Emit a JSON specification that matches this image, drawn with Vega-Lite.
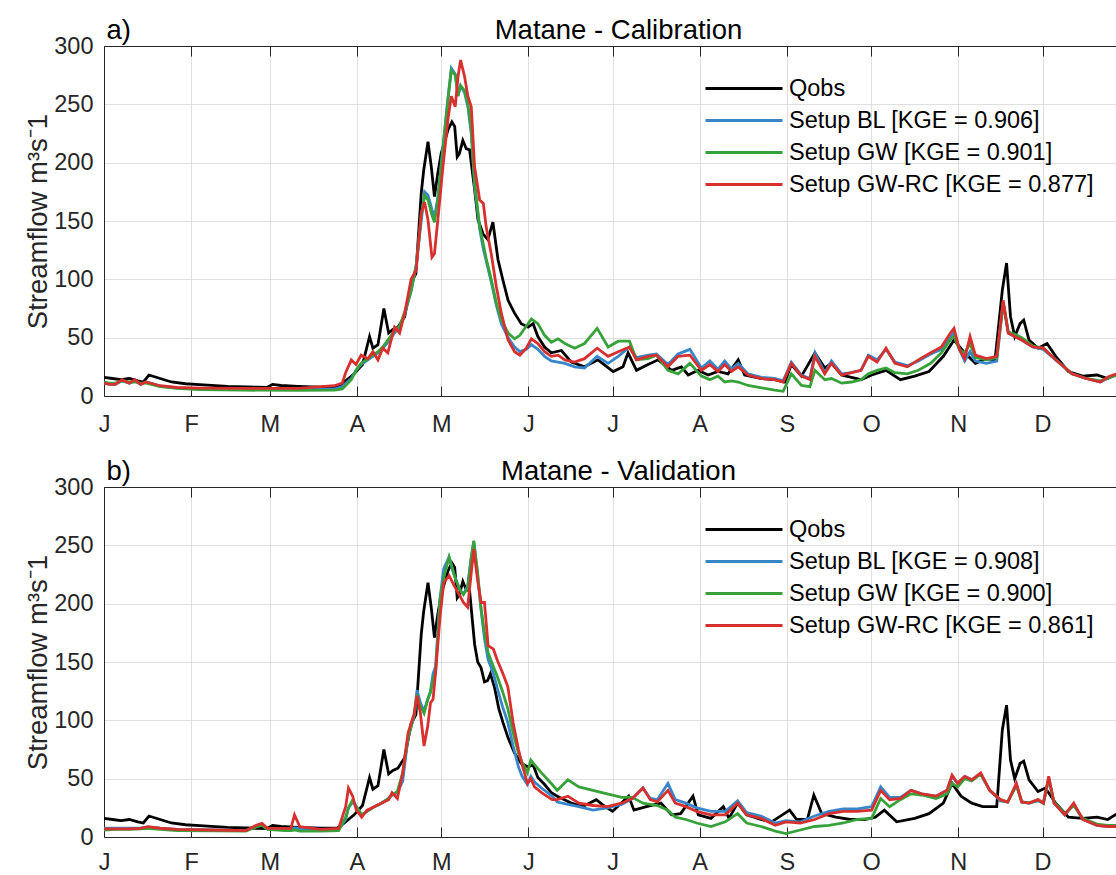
{
  "$schema": "https://vega.github.io/schema/vega-lite/v6.json",
  "padding": {"left": 24, "top": 16, "right": 0, "bottom": 0},
  "config": {
    "font": "Liberation Sans",
    "view": {"stroke": null},
    "axis": {"gridColor": "#dfdfdf", "gridWidth": 1, "domainColor": "#262626", "tickColor": "#262626", "labelColor": "#262626"}
  },
  "datasets": {
    "flows": [
      {"p": "a", "k": "Qobs",
       "d": [1,4,7,10,13,15,17,21,25,30,35,45,55,59,61,64,70,78,84,86,88,90,93,95.5,96.7,98.5,100.6,102.3,103.8,105.6,108,110.3,112,113.9,114.8,116.3,117.5,118.6,119.8,121,123.4,124.8,125.8,126.7,127.5,128.7,129.9,131.1,132.9,134.1,135.9,137.6,139.4,141.2,143,144.8,147.1,149.5,151.9,153.7,155.4,157.8,160.2,163.8,167.3,172,176.8,182.2,185.7,187.5,190.5,194.6,198.2,203,206.5,208.9,212.4,216,219.5,223.1,226.7,229,235,239.7,243.3,245.6,249.2,254,257.5,259.9,263.5,267,270.4,274.2,279.3,284.4,289.5,294.6,299.7,303.5,307.3,311.1,315,318.1,320.7,322.2,323.6,325.1,327,328.3,330.2,333.4,336.6,339.7,344.2,349.3,354.4,358.2,361.5],
       "q": [16,15,14,15,13,12,18,15,12,10.5,9.8,8.3,7.5,7.3,10,9,8.2,7.5,7.5,11,15,19,27,51,41,44,75,54,57,59,68,97,105,174,194,218,196,171,191,208,228,235,231,205,208,219,212,211,177,151,139,134,149,117,99,82,71,62,59,62,51,42,37,39,29,25,31,21,25,37,22,27,31,22,25,18,22,18,21,19,31,18,15,14,12,27,17,37,24,28,18,16,14,18,22,14,17,21,34,48,37,28,32,31,91,114,68,51,62,65,48,41,45,34,21,17,18,15,19]},
      {"p": "a", "k": "Setup BL [KGE = 0.906]",
       "d": [1,3,5,7.5,10,12,14,16,21,27,35,50,70,83,85.8,87,89,90.7,92.5,94.9,96.7,98.5,100.2,102,104.4,106.2,108,110.3,112.1,113.9,115.1,116.3,117.7,118.6,119.8,121.6,123.4,124.6,126,127,127.9,129.3,130.5,131.7,132.9,134.7,136,137,138.8,140.6,142.4,144.8,147.1,149,151.3,153.1,155.4,157.8,160.2,162.6,165,168.5,172,176.5,180.4,184,188,190.5,194.6,197.6,201.7,205.3,209.5,213.6,216.6,219.5,221.9,224.3,226.7,230.2,235,239.7,242.7,245.6,249.2,252.2,254,257.5,259.9,263.5,267,270.4,273,276.1,279.3,282.5,286.9,290.8,295.2,299,302.2,303.5,305.4,307.3,309.2,311.1,315,318.7,321,322.8,325.1,327.6,331.5,335.3,339.7,345.5,350.5,355.6,358.8,361.5],
       "q": [11,10,10,13,11,13,10,12,8.5,7,6,5.5,5.5,6,8,11,15,22,27,31,34,37,41,46,54,59,70,90,112,150,175,172,160,153,170,213,255,281,276,258,266,260,248,225,180,143,126,116,98,78,62,50,42,38,40,44,40,34,30,29,28,25,24,34,28,34,42,33,35,36,27,36,40,24,30,23,30,23,28,19,16,15,13,29,18,15,37,20,30,19,20,22,35,31,40,29,26,30,36,40,50,55,40,30,38,30,28,30,80,54,51,48,42,40,31,19,15,12,16,18]},
      {"p": "a", "k": "Setup GW [KGE = 0.901]",
       "d": [1,3,5,7.5,10,12,14,16,21,27,35,50,70,83,85.8,87,89,90.7,92.5,94.9,96.7,98.5,100.2,102,104.4,106.2,108,110.3,112.1,113.9,115.1,116.3,117.7,118.6,119.8,121.6,123.4,124.6,126,127,127.9,129.3,130.5,131.7,132.9,134.7,136,137,138.8,140.6,142.4,144.8,147.1,149,151.3,153.1,155.4,157.8,160.2,162.6,165,168.5,172,176.5,180.4,184,188,190.5,194.6,197.6,201.7,205.3,209.5,213.6,216.6,219.5,221.9,224.3,226.7,230.2,235,239.7,242.7,245.6,249.2,252.2,254,257.5,259.9,263.5,267,270.4,273,276.1,279.3,282.5,286.9,290.8,295.2,299,302.2,303.5,305.4,307.3,309.2,311.1,315,318.7,321,322.8,325.1,327.6,331.5,335.3,339.7,345.5,350.5,355.6,358.8,361.5],
       "q": [12,11,11,13,12,12,11,11,8,6.5,5.5,5,4.8,5,6,9,14,22,28,32,35,38,42,48,56,60,72,90,112,155,172,168,155,149,168,211,254,279,275,257,266,262,250,228,182,145,130,118,100,80,65,54,49,52,60,66,62,52,46,49,45,41,45,58,42,47,47,31,32,35,22,19,28,17,14,17,12,13,12,9,7,5,4,19,9,8,22,14,15,11,12,14,19,22,24,20,19,22,28,37,48,51,40,37,45,33,31,33,80,55,53,50,43,41,31,19,15,13,16,18]},
      {"p": "a", "k": "Setup GW-RC [KGE = 0.877]",
       "d": [1,3,5,7.5,10,12,14,16,21,27,35,50,70,83,85.8,87,89,90.7,92.5,94.9,96.7,98.5,100.2,102,104.4,106.2,108,110.3,112.1,113.9,115.1,116.3,117.7,118.6,119.8,121.6,123.4,124.6,126,127,127.9,129.3,130.5,131.7,132.9,134.7,136,137,138.8,140.6,142.4,144.8,147.1,149,151.3,153.1,155.4,157.8,160.2,162.6,165,168.5,172,176.5,180.4,184,188,190.5,194.6,197.6,201.7,205.3,209.5,213.6,216.6,219.5,221.9,224.3,226.7,230.2,235,239.7,242.7,245.6,249.2,252.2,254,257.5,259.9,263.5,267,270.4,273,276.1,279.3,282.5,286.9,290.8,295.2,299,302.2,303.5,305.4,307.3,309.2,311.1,315,318.7,321,322.8,325.1,327.6,331.5,335.3,339.7,345.5,350.5,355.6,358.8,361.5],
       "q": [11,10,10,14,11,14,10,12,8.8,7.3,6.8,6.5,6.5,8.8,11,20,31,27,35,32,38,31,41,37,59,54,71,100,108,157,166,151,119,122,151,196,237,257,248,274,288,274,257,248,196,168,165,145,122,94,71,48,38,35,41,49,45,38,34,35,31,29,32,41,34,38,42,31,34,35,25,34,35,22,27,21,27,21,25,18,15,14,12,28,17,14,34,19,28,18,20,22,34,29,41,28,25,31,37,42,54,58,40,32,51,35,32,34,82,54,51,48,42,41,31,19,15,12,17,19]},
      {"p": "b", "k": "Qobs",
       "d": [1,4,7,10,13,15,17,21,25,30,35,45,55,59,61,64,70,78,84,86,88,90,93,95.5,96.7,98.5,100.6,102.3,103.8,105.6,108,110.3,112,113.9,114.8,116.3,117.5,118.6,119.8,121,123.4,124.8,125.8,126.7,127.5,128.7,129.9,131.1,132.9,134,135.2,136.4,137.5,138.5,140,141.5,143,144.8,147.1,149.5,151.9,153.7,155.4,157.8,160.2,162.3,167.4,171.2,176.2,178.8,182,187.7,189.6,194,199.2,203,206.2,210.6,212.5,217,221.4,223.4,226.5,229.7,234.8,238.6,245,247.5,251.3,253.6,256.4,261.5,266.6,271.7,275.5,278.7,283.1,289.5,294.6,299.7,302.8,306,309.8,313.7,318.7,320.7,322.2,323.6,325.1,327,328.3,330.2,333.4,336,339.7,344.2,349.3,354.4,358.2,361.5],
       "q": [16,15,14,15,13,12,18,15,12,10.5,9.8,8.3,7.5,7.3,10,9,8.2,7.5,7.5,11,15,19,27,51,41,44,75,54,57,59,68,97,105,174,194,218,196,171,191,208,228,235,231,205,208,219,212,211,165,150,145,133,134,140,128,110,98,85,72,63,60,62,51,45,38,35,29,26,32,27,22,35,23,26,29,19,20,35,19,16,26,16,29,19,15,13,23,15,15,36,20,17,15,15,17,23,13,16,20,29,46,35,29,26,26,92,113,66,50,63,65,49,39,42,29,17,16,17,15,20]},
      {"p": "b", "k": "Setup BL [KGE = 0.908]",
       "d": [1,5,10,14,16.6,21,27,40,51.5,55.4,57.2,59.2,65.5,67.5,68.8,70.7,78,84.5,87,88,89.5,90.8,92.7,94.6,97.2,99.7,102.3,103.5,105.4,107.3,109.2,111.4,112.4,113.6,114.9,116.2,117.2,118.1,119,120.6,121.9,123.8,125.7,127.6,128.9,130.4,131.6,132.6,133.9,135.2,136.4,137.7,139.6,140.9,142.8,144.7,146.6,148.5,149.8,151.7,152.9,154.2,156.7,160.5,162.3,166.1,170,175,180.1,185.2,189,192.8,195.4,197.9,201.7,204.3,208.1,211.9,217,222.1,226.5,229.7,234.8,239.9,243.7,248.8,253.9,259,264.1,269.1,274.2,277.4,280.6,284.4,288.2,292,297.1,301,302.8,304.8,307.3,309.8,313,316.2,320,322.6,325.7,327.6,330.2,333.4,335.3,337.2,339.1,342.9,346.1,349.3,354.4,358.2,361.5],
       "q": [7.5,7.5,7.5,7.5,8.5,7.5,6.5,6,5.5,9.5,11,7,6.5,6.5,8,7,6,6.5,15,25,30,26,19,22,26,29,33,36,38,48,85,104,126,115,108,118,125,140,146,205,230,240,224,212,208,215,238,253,225,195,170,152,140,128,112,98,78,60,52,45,52,47,42,35,30,28,26,23,25,28,33,42,33,32,46,32,29,25,22,22,31,21,18,12,14,13,18,22,24,24,26,43,34,34,40,37,35,40,52,46,52,49,54,40,31,30,45,30,29,31,29,50,29,19,28,15,10,9,9]},
      {"p": "b", "k": "Setup GW [KGE = 0.900]",
       "d": [1,5,10,14,16.6,21,27,40,51.5,55.4,57.2,59.2,65.5,67.5,68.8,70.7,78,84.5,87,88,89.5,90.8,92.7,94.6,97.2,99.7,102.3,103.5,105.4,107.3,109.2,111.4,112.4,113.6,114.9,116.2,117.2,118.1,119,120.6,121.9,123.8,125.7,127.6,128.9,130.4,131.6,132.6,133.9,135.2,136.4,137.7,139.6,140.9,142.8,144.7,146.6,148.5,149.8,151.7,152.9,154.2,156.7,160.5,162.3,166.1,170,175,180.1,185.2,189,192.8,195.4,197.9,201.7,204.3,208.1,211.9,217,222.1,226.5,229.7,234.8,239.9,243.7,248.8,253.9,259,264.1,269.1,274.2,277.4,280.6,284.4,288.2,292,297.1,301,302.8,304.8,307.3,309.8,313,316.2,320,322.6,325.7,327.6,330.2,333.4,335.3,337.2,339.1,342.9,346.1,349.3,354.4,358.2,361.5],
       "q": [6,6.5,6.5,7,7.5,6.5,5.5,5.2,5,8.8,10,6.5,5.5,5.5,6,5,5,5.5,17,25,32,26,19,22,26,29,33,36,39,55,85,105,122,112,106,118,124,135,141,204,222,240,224,212,208,213,238,254,228,195,175,158,146,138,125,110,89,72,64,55,66,62,55,45,40,49,43,40,37,34,34,29,28,27,23,17,15,12,9,13,20,12,9,5,3,6,9,10,12,15,16,33,26,32,37,36,33,37,46,43,50,48,54,40,32,30,44,30,29,32,29,50,30,20,27,16,11,10,10]},
      {"p": "b", "k": "Setup GW-RC [KGE = 0.861]",
       "d": [1,5,10,14,16.6,21,27,40,51.5,55.4,57.2,59.2,65.5,67.5,68.8,70.7,78,84.5,87,88,89.5,90.8,92.7,94.6,97.2,99.7,102.3,103.5,105.4,107.3,109.2,111.4,112.4,113.6,114.9,116.2,117.2,118.1,119,120.6,121.9,123.8,125.7,127.6,128.9,130.4,131.6,132.6,133.9,135.2,136.4,137.7,139.6,140.9,142.8,144.7,146.6,148.5,149.8,151.7,152.9,154.2,156.7,160.5,162.3,166.1,170,175,180.1,185.2,189,192.8,195.4,197.9,201.7,204.3,208.1,211.9,217,222.1,226.5,229.7,234.8,239.9,243.7,248.8,253.9,259,264.1,269.1,274.2,277.4,280.6,284.4,288.2,292,297.1,301,302.8,304.8,307.3,309.8,313,316.2,320,322.6,325.7,327.6,330.2,333.4,335.3,337.2,339.1,342.9,346.1,349.3,354.4,358.2,361.5],
       "q": [7,7,7,7.4,8.8,7.5,6.5,6,5.4,10.3,11.7,7.4,7.4,7.4,19,8.8,6.5,7.4,26,42,35,23,17,23,26,29,32,38,33,55,89,106,121,106,78,95,115,118,141,189,218,224,215,207,201,197,224,247,221,201,201,164,161,152,141,129,98,75,62,46,50,43,38,32,32,35,29,27,26,29,33,42,32,30,40,29,26,22,19,19,29,19,16,10,13,12,15,20,22,22,23,40,32,33,40,37,35,40,53,46,52,49,55,40,32,30,46,30,29,32,29,52,29,19,29,15,10,9,9]}
    ]
  },
  "spacing": 91,
  "bounds": "flush",
  "resolve": {"scale": {"color": "independent"}, "legend": {"color": "independent"}},
  "vconcat": [
    {
      "width": 1013,
      "height": 350,
      "data": {"name": "flows"},
      "transform": [{"filter": "datum.p == 'a'"}, {"flatten": ["d", "q"]}],
      "resolve": {"axis": {"x": "independent"}},
      "layer": [
        {
          "mark": {"type": "line", "strokeWidth": 2.8, "clip": true},
          "encoding": {
            "x": {"field": "d", "type": "quantitative",
                  "scale": {"domain": [1, 361.5], "nice": false, "zero": false},
                  "axis": {"orient": "bottom", "values": [1,32,60,91,121,152,182,213,244,274,305,335],
                           "labelExpr": "datum.value < 20 ? 'J' : datum.value < 45 ? 'F' : datum.value < 75 ? 'M' : datum.value < 105 ? 'A' : datum.value < 135 ? 'M' : datum.value < 165 ? 'J' : datum.value < 195 ? 'J' : datum.value < 230 ? 'A' : datum.value < 260 ? 'S' : datum.value < 290 ? 'O' : datum.value < 320 ? 'N' : 'D'",
                           "ticks": false, "labelFontSize": 23.5, "labelPadding": 16,
                           "labelFlush": false, "labelOverlap": false, "grid": true, "title": null}},
            "y": {"field": "q", "type": "quantitative",
                  "scale": {"domain": [0, 300], "nice": false},
                  "axis": {"values": [0,50,100,150,200,250,300], "ticks": false, "labelFontSize": 23.5, "labelPadding": 11,
                           "grid": true, "title": "Streamflow m³s⁻1", "titleFontSize": 27.5, "titleFontWeight": "normal",
                           "titleColor": "#262626", "titlePadding": 1, "labelOverlap": false}},
            "color": {"field": "k", "type": "nominal",
                      "scale": {"domain": ["Qobs", "Setup BL [KGE = 0.906]", "Setup GW [KGE = 0.901]", "Setup GW-RC [KGE = 0.877]"],
                                "range": ["#000000", "#3786c9", "#38a23a", "#d7302f"]},
                      "legend": {"orient": "none", "legendX": 655, "legendY": 30, "title": null, "symbolType": "M-6,0H1",
                                 "symbolSize": 484, "symbolStrokeWidth": 3, "labelFontSize": 23.5, "labelColor": "#000000",
                                 "labelLimit": 600, "labelOffset": 5, "rowPadding": 8, "padding": 0}}
          }
        },
        {
          "mark": {"type": "line", "opacity": 0},
          "encoding": {
            "x": {"field": "d", "type": "quantitative",
                  "axis": {"orient": "top", "labels": false, "ticks": false, "grid": false, "title": "Matane - Calibration", "titleFontSize": 27.5,
                           "titleFontWeight": "normal", "titleColor": "#000000", "titleBaseline": "alphabetic",
                           "titleY": -8, "titleX": 514}},
            "y": {"field": "q", "type": "quantitative"},
            "detail": {"field": "k"}
          }
        },
        {
          "mark": {"type": "line", "opacity": 0},
          "encoding": {
            "x": {"field": "d", "type": "quantitative",
                  "axis": {"orient": "top", "values": [1,32,60,91,121,152,182,213,244,274,305,335], "labels": false,
                           "domain": false, "ticks": true, "tickSize": 10, "offset": -10, "grid": false,
                           "title": "a)", "titleFontSize": 27.5, "titleFontWeight": "normal", "titleColor": "#000000",
                           "titleBaseline": "alphabetic", "titleAlign": "left", "titleAnchor": "start", "titleY": -18, "titleX": 2}},
            "y": {"field": "q", "type": "quantitative"},
            "detail": {"field": "k"}
          }
        },
        {
          "mark": {"type": "line", "opacity": 0},
          "encoding": {
            "x": {"field": "d", "type": "quantitative",
                  "axis": {"orient": "bottom", "values": [1,32,60,91,121,152,182,213,244,274,305,335], "labels": false,
                           "domain": false, "ticks": true, "tickSize": 10, "offset": -10, "grid": false, "title": null}},
            "y": {"field": "q", "type": "quantitative"},
            "detail": {"field": "k"}
          }
        }
      ]
    },
    {
      "width": 1013,
      "height": 350,
      "data": {"name": "flows"},
      "transform": [{"filter": "datum.p == 'b'"}, {"flatten": ["d", "q"]}],
      "resolve": {"axis": {"x": "independent"}},
      "layer": [
        {
          "mark": {"type": "line", "strokeWidth": 2.8, "clip": true},
          "encoding": {
            "x": {"field": "d", "type": "quantitative",
                  "scale": {"domain": [1, 361.5], "nice": false, "zero": false},
                  "axis": {"orient": "bottom", "values": [1,32,60,91,121,152,182,213,244,274,305,335],
                           "labelExpr": "datum.value < 20 ? 'J' : datum.value < 45 ? 'F' : datum.value < 75 ? 'M' : datum.value < 105 ? 'A' : datum.value < 135 ? 'M' : datum.value < 165 ? 'J' : datum.value < 195 ? 'J' : datum.value < 230 ? 'A' : datum.value < 260 ? 'S' : datum.value < 290 ? 'O' : datum.value < 320 ? 'N' : 'D'",
                           "ticks": false, "labelFontSize": 23.5, "labelPadding": 13,
                           "labelFlush": false, "labelOverlap": false, "grid": true, "title": null}},
            "y": {"field": "q", "type": "quantitative",
                  "scale": {"domain": [0, 300], "nice": false},
                  "axis": {"values": [0,50,100,150,200,250,300], "ticks": false, "labelFontSize": 23.5, "labelPadding": 11,
                           "grid": true, "title": "Streamflow m³s⁻1", "titleFontSize": 27.5, "titleFontWeight": "normal",
                           "titleColor": "#262626", "titlePadding": 1, "labelOverlap": false}},
            "color": {"field": "k", "type": "nominal",
                      "scale": {"domain": ["Qobs", "Setup BL [KGE = 0.908]", "Setup GW [KGE = 0.900]", "Setup GW-RC [KGE = 0.861]"],
                                "range": ["#000000", "#3786c9", "#38a23a", "#d7302f"]},
                      "legend": {"orient": "none", "legendX": 655, "legendY": 30, "title": null, "symbolType": "M-6,0H1",
                                 "symbolSize": 484, "symbolStrokeWidth": 3, "labelFontSize": 23.5, "labelColor": "#000000",
                                 "labelLimit": 600, "labelOffset": 5, "rowPadding": 8, "padding": 0}}
          }
        },
        {
          "mark": {"type": "line", "opacity": 0},
          "encoding": {
            "x": {"field": "d", "type": "quantitative",
                  "axis": {"orient": "top", "labels": false, "ticks": false, "grid": false, "title": "Matane - Validation", "titleFontSize": 27.5,
                           "titleFontWeight": "normal", "titleColor": "#000000", "titleBaseline": "alphabetic",
                           "titleY": -8, "titleX": 514}},
            "y": {"field": "q", "type": "quantitative"},
            "detail": {"field": "k"}
          }
        },
        {
          "mark": {"type": "line", "opacity": 0},
          "encoding": {
            "x": {"field": "d", "type": "quantitative",
                  "axis": {"orient": "top", "values": [1,32,60,91,121,152,182,213,244,274,305,335], "labels": false,
                           "domain": false, "ticks": true, "tickSize": 10, "offset": -10, "grid": false,
                           "title": "b)", "titleFontSize": 27.5, "titleFontWeight": "normal", "titleColor": "#000000",
                           "titleBaseline": "alphabetic", "titleAlign": "left", "titleAnchor": "start", "titleY": -18, "titleX": 2}},
            "y": {"field": "q", "type": "quantitative"},
            "detail": {"field": "k"}
          }
        },
        {
          "mark": {"type": "line", "opacity": 0},
          "encoding": {
            "x": {"field": "d", "type": "quantitative",
                  "axis": {"orient": "bottom", "values": [1,32,60,91,121,152,182,213,244,274,305,335], "labels": false,
                           "domain": false, "ticks": true, "tickSize": 10, "offset": -10, "grid": false, "title": null}},
            "y": {"field": "q", "type": "quantitative"},
            "detail": {"field": "k"}
          }
        }
      ]
    }
  ]
}
